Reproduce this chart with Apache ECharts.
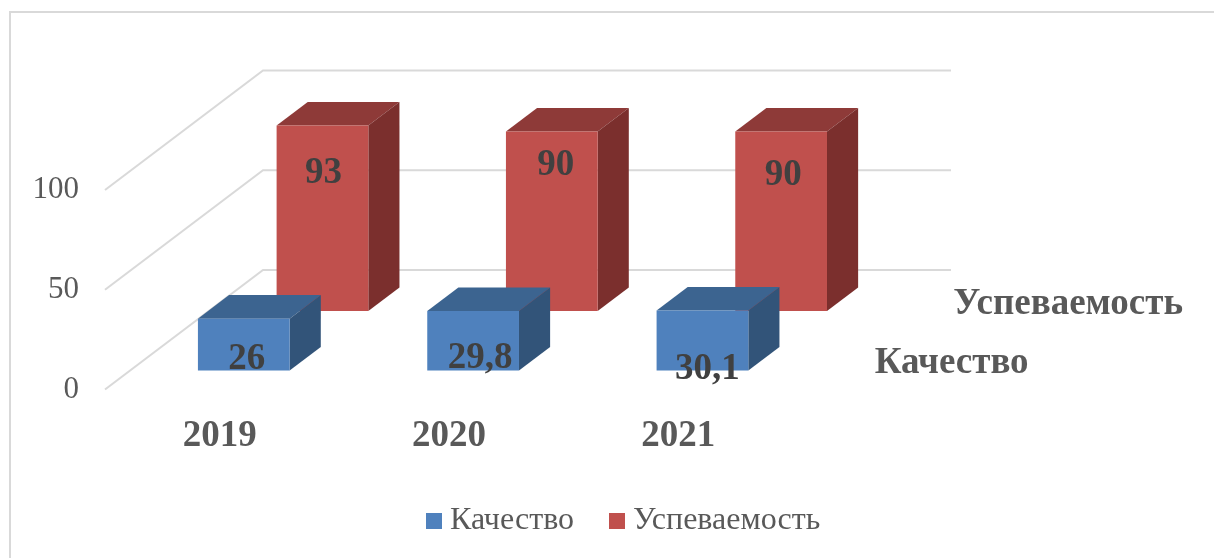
<!DOCTYPE html>
<html>
<head>
<meta charset="utf-8">
<title>Качество и успеваемость</title>
<style>
html, body { margin: 0; padding: 0; background: #fff; }
#chart { width: 1214px; height: 558px; }
</style>
<script src="https://cdn.jsdelivr.net/npm/echarts@6/dist/echarts.min.js"></script>
</head>
<body>
<div id="chart"></div>
<script>
// data
var years = ['2019', '2020', '2021'];
var kachestvo = [26, 29.8, 30.1];
var uspevaemost = [93, 90, 90];
var wallTicks = [0, 50, 100];

// fake 3d: the depth axis goes from the front plane of the grid up and to the right
var depthX = 158;
var depthY = 119.5;
var rowDepth = { kachestvo: 0.159, uspevaemost: 0.657 };
var barDepth = 0.197;
var barWidth = 0.4;

// hand placed data labels, offset from the middle of the front face
var kachestvoShift = [[3, 15], [7, 18], [5, 29]];
var uspevaemostShift = [[1, -45], [4, -56], [2, -46]];

var serif = '"Liberation Serif", "Times New Roman", serif';
var textColor = '#595959';

function comma(v) {
    return String(v).replace('.', ',');
}

function wallItem(params, api) {
    var band = api.size([1, 0])[0];
    var p = api.coord([0, api.value(1)]);
    var x0 = p[0] - band / 2;
    return {
        type: 'polyline',
        silent: true,
        shape: {
            points: [
                [x0, p[1]],
                [x0 + depthX, p[1] - depthY],
                [x0 + depthX + band * years.length, p[1] - depthY]
            ]
        },
        style: { stroke: '#d9d9d9', lineWidth: 2, fill: null }
    };
}

function barRenderer(depth, colors, shifts) {
    return function (params, api) {
        var band = api.size([1, 0])[0];
        var w = band * barWidth;
        var top = api.coord([api.value(0), api.value(1)]);
        var base = api.coord([api.value(0), 0]);
        var ox = depth * depthX;
        var oy = depth * depthY;
        var l = top[0] + ox - w / 2 - 1;
        var r = l + w;
        var t = top[1] - oy;
        var b = base[1] - oy;
        var dx = barDepth * depthX;
        var dy = barDepth * depthY;
        var shift = shifts[params.dataIndex];
        return {
            type: 'group',
            children: [
                {
                    type: 'polygon',
                    shape: { points: [[l, t], [l + dx, t - dy], [r + dx, t - dy], [r, t]] },
                    style: { fill: colors[1] }
                },
                {
                    type: 'polygon',
                    shape: { points: [[r, t], [r + dx, t - dy], [r + dx, b - dy], [r, b]] },
                    style: { fill: colors[2] }
                },
                {
                    type: 'rect',
                    shape: { x: l, y: t, width: w, height: b - t },
                    style: { fill: colors[0] }
                },
                {
                    type: 'text',
                    z2: 10,
                    style: {
                        x: (l + r) / 2 + shift[0],
                        y: (t + b) / 2 + shift[1],
                        text: comma(api.value(1)),
                        align: 'center',
                        verticalAlign: 'middle',
                        font: 'bold 37px ' + serif,
                        fill: '#404040'
                    }
                }
            ]
        };
    };
}

// series names written on the floor, right of the last category
function depthLabel(name, depth) {
    return function (params, api) {
        var band = api.size([1, 0])[0];
        var p = api.coord([years.length - 1, 0]);
        var f = depth + barDepth / 2;
        return {
            type: 'text',
            silent: true,
            style: {
                x: p[0] + band / 2 + f * depthX + 41,
                y: p[1] - f * depthY + 5,
                text: name,
                align: 'left',
                verticalAlign: 'middle',
                font: 'bold 37px ' + serif,
                fill: textColor
            }
        };
    };
}

var myChart = echarts.init(document.getElementById('chart'), null, { renderer: 'canvas' });

var option = {
    animation: false,
    backgroundColor: '#fff',
    graphic: [{
        type: 'rect',
        silent: true,
        z: -1,
        shape: { x: 10, y: 12, width: 1400, height: 800 },
        style: { fill: null, stroke: '#d9d9d9', lineWidth: 2 }
    }],
    grid: { left: 105, top: 190, width: 688, height: 199.5 },
    xAxis: {
        type: 'category',
        data: years,
        axisLine: { show: false },
        axisTick: { show: false },
        axisLabel: {
            margin: 28,
            color: textColor,
            fontFamily: serif,
            fontWeight: 'bold',
            fontSize: 37
        }
    },
    yAxis: {
        type: 'value',
        min: 0,
        max: 100,
        interval: 50,
        axisLine: { show: false },
        axisTick: { show: false },
        splitLine: { show: false },
        axisLabel: {
            margin: 26,
            color: textColor,
            fontFamily: serif,
            fontSize: 31
        }
    },
    legend: {
        left: 421,
        top: 500,
        icon: 'rect',
        itemWidth: 16,
        itemHeight: 16,
        itemGap: 35,
        selectedMode: false,
        data: ['Качество', 'Успеваемость'],
        textStyle: {
            color: textColor,
            fontFamily: serif,
            fontSize: 32,
            padding: [4, 0, 0, 3]
        }
    },
    series: [
        {
            name: 'wall',
            type: 'custom',
            z: 1,
            silent: true,
            renderItem: wallItem,
            data: wallTicks.map(function (v) { return [0, v]; })
        },
        {
            name: 'Успеваемость',
            type: 'custom',
            z: 2,
            itemStyle: { color: '#c0504d' },
            renderItem: barRenderer(rowDepth.uspevaemost, ['#c0504d', '#8e3a38', '#7b2f2d'], uspevaemostShift),
            data: uspevaemost.map(function (v, i) { return [i, v]; })
        },
        {
            name: 'Качество',
            type: 'custom',
            z: 3,
            itemStyle: { color: '#4f81bd' },
            renderItem: barRenderer(rowDepth.kachestvo, ['#4f81bd', '#3c6490', '#325479'], kachestvoShift),
            data: kachestvo.map(function (v, i) { return [i, v]; })
        },
        {
            name: 'labelK',
            type: 'custom',
            z: 4,
            silent: true,
            renderItem: depthLabel('Качество', rowDepth.kachestvo),
            data: [[2, 0]]
        },
        {
            name: 'labelU',
            type: 'custom',
            z: 4,
            silent: true,
            renderItem: depthLabel('Успеваемость', rowDepth.uspevaemost),
            data: [[2, 0]]
        }
    ]
};
myChart.setOption(option);
</script>
</body>
</html>
